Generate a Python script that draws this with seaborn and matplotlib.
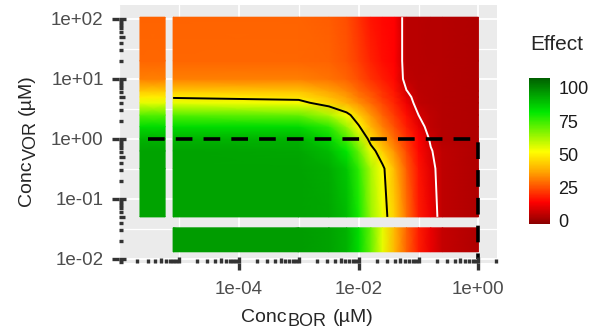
import numpy as np
import matplotlib
matplotlib.use("Agg")
import matplotlib.pyplot as plt
import matplotlib.transforms as mtransforms
from matplotlib.colors import LinearSegmentedColormap
import seaborn as sns

# doses (uM) at the nodes of the predicted response surface
bor_doses = [8e-6, 1e-3, 3.2e-3, 6.3e-3, 1e-2, 1.6e-2, 2.5e-2, 4e-2, 6.3e-2, 0.1, 0.16, 0.25, 1.0]
vor_doses = [0.05, 0.32, 0.63, 1.0, 1.6, 2.5, 4.0, 5.0, 6.3, 10, 20, 107]

# effect, one row per VOR dose (low -> high), one column per BOR dose
effect = [
    [95, 95, 94, 90, 80, 64, 54, 44, 30, 18, 12, 5, 3],
    [95, 95, 93, 88, 77, 62, 52, 40, 27, 17, 10, 5, 3],
    [95, 94, 90, 82, 70, 54, 44, 34, 24, 15, 8.5, 5, 3],
    [92, 92, 85, 74, 62, 46, 37, 29, 21, 14, 7, 4, 3],
    [84, 84, 77, 64, 51, 40, 32, 25, 18, 11, 5, 4, 3],
    [72, 70, 62, 53, 44, 35, 28, 22, 16, 8, 5, 4, 3],
    [55, 53, 45, 39, 34, 29, 24, 19, 12, 5, 4.5, 4, 3],
    [49, 47, 41, 36, 31, 27, 22, 18, 10, 5, 4.5, 4, 3],
    [43, 42, 37, 33, 29, 25, 21, 17, 8.2, 4.8, 4.4, 4, 3],
    [32, 32, 30, 28, 25, 21, 18, 15, 5, 4.5, 4.2, 4, 3],
    [28.5, 28.5, 28, 26, 23, 19, 16, 14, 4.5, 4.3, 4.1, 4, 3],
    [28, 28, 27, 25, 21, 17, 15, 14, 4.5, 4.3, 4.1, 4, 3],
]
# single agents (other drug at 0)
effect_bor_only = [96, 96, 95, 92, 84, 70, 55, 40, 28, 18, 11, 6, 3]
effect_vor_only = [95, 95, 95, 92, 84, 72, 55, 49, 43, 32, 28.5, 28]

ref_bor = 1.0
ref_vor = 1.0
black_level = 50
white_level = 8
legend_breaks = [0, 25, 50, 75, 100]
effect_min, effect_max = -2.3, 107.5

# where the zero-dose strips sit on the log axes
bor_zero_strip = (-5.65, -5.23)
vor_zero_strip = (-1.883, -1.483)

sns.set_theme(style="darkgrid", rc={"axes.facecolor": "#EBEBEB", "grid.color": "white"})
plt.rcParams["font.family"] = ["Liberation Sans", "DejaVu Sans"]
plt.rcParams["lines.scale_dashes"] = False

W, H = 593, 333


def frac(v):
    return (v - effect_min) / (effect_max - effect_min)


cmap = LinearSegmentedColormap.from_list("effect", [
    (0.0, "#8B0000"), (frac(14), "#FF0000"), (frac(37), "#FFA500"),
    (frac(52), "#FFFF00"), (frac(82), "#00E800"), (1.0, "#006000")])

fig = plt.figure(figsize=(W / 100, H / 100), dpi=100)
ax_w_px, ax_h_px = 378, 258
ax = fig.add_axes([119 / W, 70 / H, ax_w_px / W, ax_h_px / H])

lx = np.log10(bor_doses)
ly = np.log10(vor_doses)
X, Y = np.meshgrid(lx, ly)
Z = np.array(effect)
norm_kw = dict(cmap=cmap, vmin=effect_min, vmax=effect_max, shading="gouraud", zorder=2)

mesh = ax.pcolormesh(X, Y, Z, **norm_kw)
# BOR alone (VOR = 0) strip at the bottom
bx, by = np.meshgrid(lx, vor_zero_strip)
ax.pcolormesh(bx, by, np.vstack([effect_bor_only, effect_bor_only]), **norm_kw)
# VOR alone (BOR = 0) strip at the left
vx, vy = np.meshgrid(bor_zero_strip, ly)
ax.pcolormesh(vx, vy, np.column_stack([effect_vor_only, effect_vor_only]), **norm_kw)

ax.contour(X, Y, Z, levels=[black_level], colors="black", linewidths=1.4, zorder=3)
ax.contour(X, Y, Z, levels=[white_level], colors="white", linewidths=1.4, zorder=3)

ax.plot([-5.52, np.log10(ref_bor), np.log10(ref_bor)],
        [np.log10(ref_vor), np.log10(ref_vor), -2.0],
        color="black", lw=2.6, linestyle=(0, (12, 8)), dash_capstyle="butt", zorder=4)

ax.set_xlim(-5.945, 0.31)
ax.set_ylim(-2.07, 2.233)
ax.set_xticks([-4, -2, 0])
ax.set_xticklabels(["1e-04", "1e-02", "1e+00"])
ax.set_xticks([-6, -5, -3, -1], minor=True)
ax.set_yticks([-2, -1, 0, 1, 2])
ax.set_yticklabels(["1e-02", "1e-01", "1e+00", "1e+01", "1e+02"])
ax.set_yticks([-1.5, -0.5, 0.5, 1.5], minor=True)
ax.grid(True, which="major", color="white", lw=1.3, zorder=0)
ax.grid(True, which="minor", color="white", lw=0.9, zorder=0)
ax.set_axisbelow(True)
for s in ax.spines.values():
    s.set_visible(False)
ax.tick_params(which="major", direction="out", length=5, width=2.4, color="#333333",
               labelsize=13.5, labelcolor="#4D4D4D", bottom=True, left=True)
ax.tick_params(axis="x", which="major", pad=8)
ax.tick_params(axis="y", which="major", pad=6)
ax.tick_params(which="minor", length=0)

# log ticks inside the panel
tick_kw = dict(color="#333333", lw=2.4, solid_capstyle="butt", clip_on=False, zorder=5)
ty = mtransforms.blended_transform_factory(ax.transAxes, ax.transData)
tx = mtransforms.blended_transform_factory(ax.transData, ax.transAxes)
for d in range(-7, 3):
    for m in range(1, 10):
        p = d + np.log10(m)
        n = 6.5 if m == 1 else (5.5 if m == 5 else 4.0)
        if -2.07 <= p <= 2.233:
            ax.plot([0, n / ax_w_px], [p, p], transform=ty, **tick_kw)
        if -5.945 <= p <= 0.31:
            ax.plot([p, p], [0, n / ax_h_px], transform=tx, **tick_kw)


def sub_title(center, base, parts, vertical=False):
    # parts: (text, fontsize, baseline shift in px, gap after in px)
    # horizontal: center/base in px from left/top; vertical: center from bottom, base from left
    renderer = fig.canvas.get_renderer()
    widths = []
    for txt, size, _, _ in parts:
        t = fig.text(0, 0, txt, fontsize=size)
        widths.append(t.get_window_extent(renderer).width)
        t.remove()
    total = sum(widths) + sum(p[3] for p in parts[:-1])
    pos = center - total / 2
    for (txt, size, shift, gap), w in zip(parts, widths):
        if vertical:
            fig.text((base + shift) / W, pos / H, txt, fontsize=size, rotation=90,
                     rotation_mode="anchor", ha="left", va="baseline")
        else:
            fig.text(pos / W, 1 - (base + shift) / H, txt, fontsize=size,
                     ha="left", va="baseline")
        pos += w + gap


def label_parts(drug):
    return [("Conc", 14, 0, 1), (drug, 13, 4.5, 6), ("(µM)", 14, 0, 0)]


sub_title(307, 322, label_parts("BOR"))
sub_title(H - 140, 31, label_parts("VOR"), vertical=True)

cax = fig.add_axes([529 / W, (H - 224) / H, 21 / W, 146 / H])
cb = fig.colorbar(mesh, cax=cax, ticks=legend_breaks)
cb.outline.set_visible(False)
cax.grid(False)
cax.tick_params(direction="in", color="white", length=4, width=1.2, left=True, right=True,
                labelsize=13, labelcolor="#1A1A1A", pad=6)
fig.text(530 / W, 1 - 45 / H, "Effect", fontsize=15, ha="left", va="center")

fig.savefig("out.png", dpi=100)
